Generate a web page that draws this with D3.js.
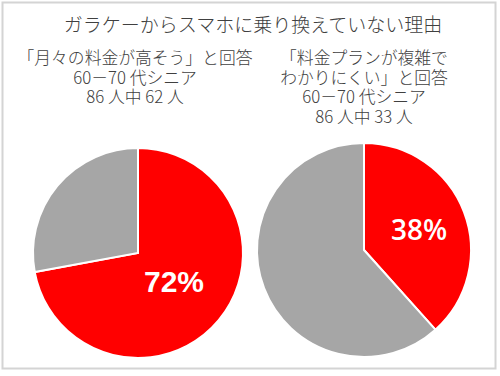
<!DOCTYPE html>
<html>
<head>
<meta charset="utf-8">
<script src="https://cdn.jsdelivr.net/npm/d3@7"></script>
<style>
  body { margin: 0; background: #fff; }
</style>
</head>
<body>
<div id="chart"></div>
<script>
// chart data
const title = 'ガラケーからスマホに乗り換えていない理由';
const captions = [
  ['「月々の料金が高そう」と回答', '60－70 代シニア', '86 人中 62 人'],
  ['「料金プランが複雑で', 'わかりにくい」と回答', '60－70 代シニア', '86 人中 33 人']
];
const categories = ['はい', 'いいえ'];
const yesCounts = [62, 33];
const totals = [86, 86];
const labels = ['72%', '38%'];

const width = 500;
const height = 376;
const font = '"Noto Sans CJK JP", "Noto Sans", sans-serif';

const svg = d3.select('#chart')
  .append('svg')
  .attr('width', width)
  .attr('height', height);

// outer frame
svg.append('rect')
  .attr('x', 2.5).attr('y', 2.5)
  .attr('width', 493).attr('height', 366)
  .attr('fill', '#fff')
  .attr('stroke', '#d4d4d4')
  .attr('stroke-width', 2);

// title
svg.append('text')
  .attr('x', 253)
  .attr('y', 32)
  .attr('text-anchor', 'middle')
  .style('font-family', font)
  .style('font-weight', 300)
  .style('font-size', '19px')
  .style('fill', '#404040')
  .text(title);

const pies = [
  {cx: 138, cy: 253, r: 105, textX: 135, labelPos: [174, 292], labelFont: 'Liberation Sans, Arial, sans-serif', labelWeight: 'bold', labelSize: 30},
  {cx: 364, cy: 250, r: 107, textX: 364, labelPos: [419, 240], labelFont: '"Open Sans", sans-serif', labelWeight: 600, labelSize: 28}
];

const color = d3.scaleOrdinal()
  .domain(categories)
  .range(['#ff0000', '#a6a6a6']);

const pie = d3.pie().sort(null).value(d => d.value);

pies.forEach((p, i) => {
  // caption lines
  svg.append('g')
    .selectAll('text')
    .data(captions[i])
    .join('text')
    .attr('x', p.textX)
    .attr('y', (d, j) => 64 + j * 19.7)
    .attr('text-anchor', 'middle')
    .style('font-family', font)
    .style('font-weight', 300)
    .style('font-size', '16.8px')
    .style('fill', '#404040')
    .text(d => d);

  const data = [
    {key: categories[0], value: yesCounts[i]},
    {key: categories[1], value: totals[i] - yesCounts[i]}
  ];
  const arc = d3.arc().innerRadius(0).outerRadius(p.r);

  const g = svg.append('g')
    .attr('transform', `translate(${p.cx},${p.cy})`);

  g.selectAll('path')
    .data(pie(data))
    .join('path')
    .attr('d', arc)
    .attr('fill', d => color(d.data.key))
    .attr('stroke', '#fff')
    .attr('stroke-width', 2);

  svg.append('text')
    .attr('x', p.labelPos[0])
    .attr('y', p.labelPos[1])
    .attr('text-anchor', 'middle')
    .style('font-family', p.labelFont)
    .style('font-weight', p.labelWeight)
    .style('font-size', p.labelSize + 'px')
    .style('fill', '#fff')
    .text(labels[i]);
});
</script>
</body>
</html>
